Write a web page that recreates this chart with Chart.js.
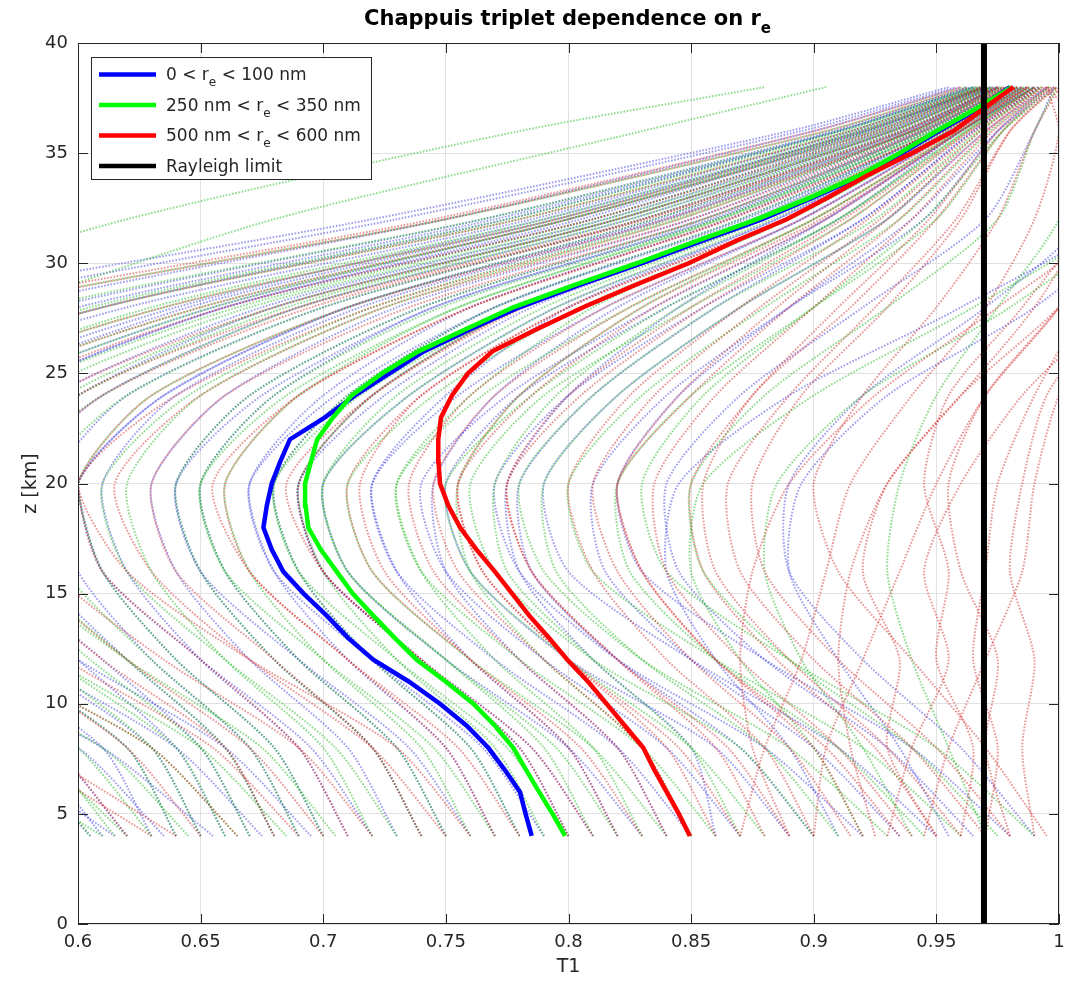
<!DOCTYPE html>
<html><head><meta charset="utf-8">
<script src="https://cdn.jsdelivr.net/npm/chart.js@4.4.1/dist/chart.umd.min.js"></script>
<style>html,body{margin:0;padding:0;background:#fff}#wrap{width:1073px;height:981px;position:relative}</style>
</head><body><div id="wrap"><canvas id="c"></canvas></div>
<script>
// ---------------- data ----------------
const zMain = [4,5,6,7,8,9,10,11,12,13,14,15,16,17,18,19,20,21,22,23,24,25,26,27,28,29,30,31,32,33,34,35,36,37,38];
const blueMain  = [0.785,0.7825,0.7802,0.774,0.7673,0.7585,0.7476,0.735,0.7204,0.710,0.7014,0.692,0.6837,0.679,0.6756,0.677,0.679,0.6825,0.6864,0.7007,0.713,0.727,0.741,0.760,0.780,0.804,0.830,0.854,0.879,0.900,0.920,0.936,0.951,0.967,0.980];
const greenMain = [0.7986,0.7935,0.788,0.7827,0.7775,0.770,0.7612,0.750,0.7381,0.729,0.7204,0.712,0.7055,0.699,0.6939,0.6928,0.6926,0.695,0.6975,0.704,0.7116,0.724,0.7388,0.758,0.7775,0.802,0.828,0.852,0.877,0.899,0.919,0.935,0.950,0.966,0.9807];
const redMain   = [0.8495,0.845,0.840,0.835,0.8305,0.823,0.8155,0.808,0.7995,0.792,0.784,0.777,0.770,0.7625,0.7558,0.751,0.7476,0.747,0.7469,0.748,0.7525,0.759,0.769,0.787,0.806,0.827,0.849,0.868,0.889,0.906,0.922,0.940,0.957,0.969,0.9814];
const rayleighT1 = [0.9694, 0.9694];
const rayleighZ  = [0, 40];

// individual profiles (background, dotted), values at zBg
const zBg = [4,8,12,16,20,24,28,32,36,38];
const bgBlue = [
 [0.60,0.55,0.47,0.40,0.36,0.41,0.54,0.73,0.895,0.958],
 [0.605,0.57,0.50,0.44,0.41,0.45,0.57,0.75,0.90,0.96],
 [0.61,0.58,0.52,0.47,0.45,0.49,0.60,0.77,0.91,0.965],
 [0.615,0.56,0.46,0.38,0.33,0.38,0.52,0.72,0.89,0.955],
 [0.62,0.59,0.54,0.49,0.47,0.51,0.62,0.785,0.915,0.966],
 [0.63,0.61,0.56,0.52,0.50,0.54,0.64,0.79,0.92,0.97],
 [0.635,0.60,0.53,0.47,0.44,0.48,0.59,0.765,0.908,0.963],
 [0.64,0.62,0.57,0.53,0.52,0.56,0.655,0.80,0.922,0.97],
 [0.65,0.63,0.58,0.54,0.53,0.57,0.66,0.81,0.925,0.97],
 [0.655,0.61,0.54,0.48,0.46,0.50,0.61,0.775,0.91,0.965],
 [0.66,0.64,0.60,0.56,0.55,0.59,0.675,0.815,0.928,0.971],
 [0.67,0.65,0.61,0.57,0.56,0.60,0.68,0.82,0.93,0.972],
 [0.675,0.64,0.58,0.53,0.51,0.55,0.645,0.795,0.918,0.968],
 [0.68,0.66,0.62,0.585,0.575,0.61,0.69,0.825,0.932,0.973],
 [0.69,0.67,0.63,0.60,0.59,0.62,0.70,0.83,0.935,0.975],
 [0.695,0.66,0.60,0.55,0.53,0.57,0.66,0.805,0.922,0.969],
 [0.70,0.68,0.64,0.61,0.60,0.635,0.71,0.835,0.937,0.975],
 [0.71,0.69,0.65,0.62,0.61,0.64,0.715,0.84,0.94,0.975],
 [0.72,0.695,0.65,0.61,0.60,0.635,0.71,0.838,0.938,0.976],
 [0.73,0.71,0.67,0.64,0.63,0.66,0.73,0.85,0.94,0.978],
 [0.74,0.72,0.68,0.65,0.64,0.67,0.74,0.855,0.943,0.979],
 [0.75,0.73,0.69,0.66,0.65,0.68,0.745,0.86,0.945,0.98],
 [0.76,0.735,0.69,0.65,0.64,0.675,0.745,0.858,0.944,0.98],
 [0.77,0.75,0.71,0.68,0.67,0.70,0.76,0.865,0.947,0.98],
 [0.78,0.76,0.72,0.69,0.68,0.71,0.77,0.87,0.95,0.983],
 [0.79,0.765,0.72,0.68,0.67,0.705,0.77,0.872,0.95,0.983],
 [0.80,0.78,0.74,0.70,0.69,0.72,0.78,0.875,0.95,0.982],
 [0.81,0.785,0.74,0.70,0.69,0.725,0.785,0.88,0.952,0.984],
 [0.82,0.80,0.76,0.73,0.72,0.75,0.80,0.885,0.955,0.985],
 [0.83,0.80,0.75,0.71,0.70,0.735,0.795,0.885,0.955,0.985],
 [0.84,0.82,0.78,0.75,0.745,0.77,0.82,0.895,0.957,0.987],
 [0.85,0.82,0.77,0.73,0.72,0.755,0.815,0.895,0.957,0.987],
 [0.86,0.85,0.81,0.78,0.775,0.80,0.845,0.905,0.96,0.99],
 [0.87,0.84,0.79,0.75,0.74,0.775,0.835,0.905,0.96,0.99],
 [0.89,0.86,0.80,0.76,0.75,0.78,0.84,0.91,0.96,0.99],
 [0.90,0.87,0.82,0.785,0.78,0.81,0.86,0.92,0.965,0.992],
 [0.92,0.88,0.82,0.78,0.77,0.80,0.855,0.92,0.965,0.992],
 [0.935,0.90,0.85,0.815,0.81,0.84,0.89,0.945,0.975,0.995],
 [0.95,0.91,0.85,0.80,0.79,0.82,0.87,0.93,0.97,0.995],
 [0.965,0.93,0.88,0.845,0.84,0.87,0.92,0.97,0.99,0.998],
 [0.98,0.94,0.88,0.83,0.82,0.845,0.89,0.94,0.975,0.998],
 [0.99,0.96,0.92,0.89,0.89,0.92,0.97,1.01,1.01,1.0],
 [0.955,0.935,0.91,0.89,0.895,0.93,0.99,1.03,1.03,1.01],
 [0.91,0.89,0.86,0.84,0.845,0.89,0.96,1.02,1.03,1.01]
];
const bgGreen = [
 [0.60,0.56,0.49,0.43,0.40,0.44,0.56,0.75,0.905,0.962],
 [0.605,0.575,0.51,0.455,0.43,0.47,0.585,0.765,0.91,0.965],
 [0.61,0.55,0.46,0.38,0.34,0.38,0.50,0.62,0.78,0.88],
 [0.615,0.585,0.53,0.48,0.46,0.50,0.61,0.78,0.915,0.967],
 [0.62,0.58,0.51,0.45,0.42,0.46,0.57,0.68,0.83,0.905],
 [0.63,0.60,0.55,0.51,0.49,0.53,0.635,0.795,0.92,0.969],
 [0.64,0.62,0.57,0.53,0.51,0.55,0.65,0.80,0.925,0.97],
 [0.645,0.61,0.54,0.48,0.455,0.495,0.605,0.775,0.912,0.966],
 [0.65,0.63,0.585,0.545,0.53,0.57,0.665,0.81,0.927,0.971],
 [0.66,0.64,0.59,0.55,0.54,0.58,0.67,0.815,0.93,0.972],
 [0.665,0.63,0.565,0.51,0.49,0.53,0.63,0.79,0.918,0.968],
 [0.67,0.65,0.605,0.565,0.555,0.595,0.68,0.82,0.932,0.973],
 [0.68,0.66,0.62,0.58,0.57,0.61,0.69,0.825,0.935,0.974],
 [0.685,0.65,0.59,0.54,0.52,0.56,0.655,0.80,0.922,0.969],
 [0.69,0.67,0.63,0.595,0.585,0.62,0.70,0.83,0.937,0.975],
 [0.70,0.68,0.64,0.61,0.60,0.63,0.71,0.835,0.94,0.976],
 [0.705,0.675,0.62,0.575,0.56,0.60,0.685,0.82,0.932,0.973],
 [0.72,0.70,0.66,0.63,0.62,0.65,0.725,0.845,0.942,0.978],
 [0.73,0.705,0.66,0.62,0.61,0.645,0.72,0.842,0.941,0.977],
 [0.74,0.72,0.68,0.65,0.64,0.67,0.74,0.855,0.945,0.98],
 [0.75,0.73,0.69,0.66,0.65,0.68,0.748,0.86,0.946,0.98],
 [0.76,0.74,0.70,0.67,0.66,0.69,0.755,0.862,0.948,0.981],
 [0.77,0.745,0.70,0.66,0.65,0.685,0.755,0.862,0.948,0.981],
 [0.78,0.76,0.72,0.69,0.68,0.71,0.77,0.87,0.95,0.982],
 [0.79,0.77,0.73,0.70,0.69,0.72,0.78,0.875,0.952,0.983],
 [0.80,0.775,0.73,0.69,0.68,0.715,0.78,0.877,0.952,0.983],
 [0.81,0.79,0.75,0.71,0.70,0.73,0.79,0.88,0.953,0.984],
 [0.82,0.795,0.75,0.71,0.70,0.735,0.795,0.883,0.954,0.985],
 [0.83,0.81,0.77,0.74,0.73,0.76,0.81,0.89,0.956,0.986],
 [0.84,0.81,0.76,0.72,0.71,0.745,0.805,0.89,0.956,0.986],
 [0.85,0.83,0.79,0.76,0.755,0.78,0.83,0.90,0.96,0.988],
 [0.86,0.83,0.78,0.74,0.73,0.765,0.825,0.90,0.959,0.988],
 [0.87,0.85,0.81,0.775,0.77,0.795,0.845,0.91,0.962,0.99],
 [0.88,0.85,0.80,0.76,0.75,0.785,0.84,0.91,0.962,0.99],
 [0.90,0.87,0.81,0.77,0.76,0.79,0.85,0.915,0.963,0.991],
 [0.91,0.88,0.83,0.795,0.79,0.82,0.87,0.93,0.968,0.993],
 [0.93,0.89,0.83,0.79,0.78,0.81,0.86,0.925,0.967,0.993],
 [0.945,0.91,0.86,0.825,0.82,0.85,0.90,0.95,0.977,0.996],
 [0.96,0.92,0.86,0.81,0.80,0.83,0.88,0.935,0.972,0.996],
 [0.975,0.94,0.89,0.855,0.85,0.88,0.93,0.975,0.99,0.999],
 [0.99,0.95,0.89,0.84,0.83,0.855,0.90,0.945,0.977,0.999],
 [0.97,0.955,0.94,0.93,0.935,0.95,0.975,1.0,1.01,1.0],
 [0.94,0.92,0.895,0.88,0.885,0.92,0.98,1.025,1.03,1.01],
 [0.92,0.90,0.87,0.85,0.855,0.90,0.965,1.02,1.03,1.01]
];
const bgRed = [
 [0.62,0.59,0.53,0.48,0.46,0.50,0.61,0.78,0.915,0.968],
 [0.63,0.57,0.48,0.41,0.37,0.42,0.55,0.745,0.90,0.96],
 [0.64,0.58,0.49,0.42,0.39,0.43,0.56,0.75,0.905,0.963],
 [0.65,0.62,0.57,0.53,0.51,0.55,0.65,0.80,0.925,0.97],
 [0.665,0.63,0.565,0.51,0.49,0.53,0.635,0.795,0.92,0.969],
 [0.68,0.66,0.61,0.57,0.56,0.59,0.68,0.82,0.932,0.973],
 [0.69,0.655,0.595,0.545,0.525,0.565,0.66,0.81,0.928,0.971],
 [0.70,0.67,0.62,0.58,0.57,0.60,0.69,0.83,0.936,0.975],
 [0.71,0.69,0.65,0.61,0.60,0.63,0.71,0.84,0.94,0.976],
 [0.72,0.69,0.635,0.59,0.575,0.61,0.695,0.832,0.937,0.975],
 [0.74,0.72,0.68,0.64,0.63,0.66,0.735,0.855,0.945,0.979],
 [0.75,0.72,0.67,0.63,0.615,0.65,0.725,0.85,0.943,0.978],
 [0.76,0.73,0.67,0.62,0.60,0.64,0.72,0.845,0.94,0.977],
 [0.77,0.75,0.71,0.67,0.66,0.69,0.76,0.865,0.95,0.981],
 [0.78,0.755,0.71,0.67,0.655,0.69,0.76,0.866,0.95,0.981],
 [0.80,0.78,0.74,0.70,0.69,0.72,0.78,0.878,0.953,0.983],
 [0.81,0.785,0.74,0.70,0.685,0.72,0.782,0.878,0.953,0.983],
 [0.82,0.80,0.76,0.725,0.715,0.74,0.80,0.888,0.956,0.985],
 [0.83,0.805,0.76,0.72,0.71,0.74,0.80,0.888,0.956,0.985],
 [0.84,0.82,0.78,0.745,0.735,0.76,0.815,0.895,0.958,0.987],
 [0.85,0.83,0.79,0.755,0.745,0.77,0.825,0.90,0.959,0.987],
 [0.86,0.84,0.80,0.765,0.755,0.78,0.83,0.903,0.96,0.988],
 [0.87,0.845,0.80,0.765,0.755,0.785,0.835,0.905,0.96,0.988],
 [0.88,0.86,0.82,0.785,0.775,0.80,0.85,0.912,0.963,0.99],
 [0.89,0.865,0.82,0.785,0.775,0.805,0.855,0.915,0.964,0.99],
 [0.90,0.88,0.84,0.81,0.80,0.825,0.87,0.922,0.966,0.991],
 [0.915,0.89,0.85,0.82,0.81,0.835,0.878,0.927,0.968,0.992],
 [0.92,0.90,0.86,0.83,0.82,0.845,0.885,0.93,0.97,0.993],
 [0.935,0.905,0.86,0.83,0.82,0.85,0.89,0.935,0.971,0.994],
 [0.94,0.91,0.87,0.84,0.835,0.86,0.90,0.94,0.973,0.995],
 [0.95,0.925,0.885,0.855,0.85,0.875,0.91,0.947,0.975,0.996],
 [0.96,0.93,0.89,0.86,0.855,0.875,0.915,0.95,0.977,0.997],
 [0.97,0.94,0.90,0.87,0.865,0.89,0.925,0.958,0.98,0.998],
 [0.98,0.95,0.91,0.88,0.875,0.895,0.93,0.96,0.98,0.999],
 [0.995,0.97,0.94,0.91,0.90,0.92,0.95,0.975,0.99,1.0],
 [0.97,0.975,0.965,0.97,0.975,0.99,1.01,1.03,1.02,1.0],
 [0.93,0.94,0.955,0.945,0.96,0.985,1.02,1.04,1.03,1.01],
 [0.90,0.905,0.92,0.935,0.95,0.97,1.0,1.02,1.02,1.0],
 [0.99,0.985,0.99,0.98,0.985,0.995,1.02,1.03,1.02,1.0],
 [0.95,0.93,0.935,0.92,0.93,0.96,0.99,1.01,1.01,0.995],
 [0.87,0.88,0.895,0.905,0.915,0.94,0.97,0.99,1.0,0.995],
 [0.96,0.965,0.95,0.955,0.945,0.955,0.985,1.01,1.01,0.998],
 [0.98,0.97,0.975,0.96,0.955,0.97,1.0,1.025,1.02,1.0],
 [0.925,0.915,0.91,0.915,0.93,0.96,1.0,1.03,1.03,1.005],
 [0.89,0.875,0.87,0.875,0.89,0.925,0.975,1.02,1.025,1.0],
 [0.945,0.955,0.97,0.985,0.99,1.0,1.02,1.03,1.02,1.0]
];
const legendLabels = ['0 < r_e < 100 nm', '250 nm < r_e < 350 nm', '500 nm < r_e < 600 nm', 'Rayleigh limit'];
const titleText = 'Chappuis triplet dependence on r_e';
const xTitle = 'T1';
const yTitle = 'z [km]';

// ---------------- build ----------------
const FONT = '"DejaVu Sans", "Liberation Sans", sans-serif';
const AX = '#262626';
const pts = (xs, zs) => xs.map((x, i) => ({x: x, y: zs[i]}));
const datasets = [];
const mainStyles = [
  {data: blueMain, color: '#0000ff', order: 3},
  {data: greenMain, color: '#00ff00', order: 2},
  {data: redMain, color: '#ff0000', order: 1}
];
datasets.push({data: pts(rayleighT1, rayleighZ), borderColor: '#000000', borderWidth: 6, order: 0, clip: 0});
mainStyles.forEach(s => datasets.push({data: pts(s.data, zMain), borderColor: s.color, borderWidth: 4.5, order: s.order}));
const bgSets = [
  {arr: bgRed, color: 'rgba(215,45,45,0.5)', order: 4},
  {arr: bgGreen, color: 'rgba(30,185,30,0.5)', order: 5},
  {arr: bgBlue, color: 'rgba(40,40,225,0.45)', order: 6}
];
bgSets.forEach(s => s.arr.forEach(p => datasets.push({data: pts(p, zBg), borderColor: s.color, borderWidth: 2, borderDash: [1.6, 1.6], tension: 0.25, order: s.order, clip: 0})));

function drawSubText(ctx, text, x, y, size, bold, align) {
  const parts = text.split('_');
  const segs = [];
  parts.forEach((p, i) => {
    if (i === 0) { segs.push({t: p, sub: false}); }
    else { segs.push({t: p[0], sub: true}); segs.push({t: p.slice(1), sub: false}); }
  });
  const fMain = (bold ? 'bold ' : '') + size + 'px ' + FONT;
  const subSize = Math.round(size * 0.72);
  const fSub = (bold ? 'bold ' : '') + subSize + 'px ' + FONT;
  let total = 0;
  segs.forEach(s => { ctx.font = s.sub ? fSub : fMain; s.w = ctx.measureText(s.t).width; total += s.w; });
  let cx = align === 'center' ? x - total / 2 : x;
  ctx.textAlign = 'left';
  ctx.textBaseline = 'alphabetic';
  segs.forEach(s => {
    ctx.font = s.sub ? fSub : fMain;
    ctx.fillText(s.t, cx, s.sub ? y + size * 0.38 : y);
    cx += s.w;
  });
}

const decor = {
  id: 'decor',
  afterDatasetsDraw(chart) {
    const ctx = chart.ctx, a = chart.chartArea;
    const xs = chart.scales.x, ys = chart.scales.y;
    ctx.save();
    ctx.strokeStyle = AX; ctx.lineWidth = 1;
    ctx.strokeRect(Math.round(a.left) + 0.5, Math.round(a.top) + 0.5, Math.round(a.right - a.left) - 1, Math.round(a.bottom - a.top) - 1);
    const TL = 10;
    ctx.beginPath();
    xs.ticks.forEach(t => {
      const px = Math.round(xs.getPixelForValue(t.value)) + 0.5;
      ctx.moveTo(px, a.bottom); ctx.lineTo(px, a.bottom - TL);
      ctx.moveTo(px, a.top); ctx.lineTo(px, a.top + TL);
    });
    ys.ticks.forEach(t => {
      const py = Math.round(ys.getPixelForValue(t.value)) + 0.5;
      ctx.moveTo(a.left, py); ctx.lineTo(a.left + TL, py);
      ctx.moveTo(a.right, py); ctx.lineTo(a.right - TL, py);
    });
    ctx.stroke();
    ctx.fillStyle = AX;
    ctx.font = '19px ' + FONT;
    ctx.textAlign = 'center'; ctx.textBaseline = 'middle';
    ctx.fillText(xTitle, (a.left + a.right) / 2, 967);
    ctx.save();
    ctx.translate(31, (a.top + a.bottom) / 2);
    ctx.rotate(-Math.PI / 2);
    ctx.fillText(yTitle, 0, 0);
    ctx.restore();
    ctx.fillStyle = '#000';
    drawSubText(ctx, titleText, (a.left + a.right) / 2 - 1, 25, 21, true, 'center');
    const lx = 91.5, ly = 57.5, lw = 280, lh = 122;
    ctx.fillStyle = '#fff';
    ctx.fillRect(lx, ly, lw, lh);
    ctx.strokeStyle = AX; ctx.lineWidth = 1;
    ctx.strokeRect(lx, ly, lw, lh);
    const cols = ['#0000ff', '#00ff00', '#ff0000', '#000000'];
    const baselines = [80, 110.5, 141, 171.5];
    legendLabels.forEach((lab, i) => {
      const yy = baselines[i] - 5.5;
      ctx.strokeStyle = cols[i]; ctx.lineWidth = 4.5;
      ctx.beginPath(); ctx.moveTo(99, yy); ctx.lineTo(156, yy); ctx.stroke();
      ctx.fillStyle = AX;
      drawSubText(ctx, lab, 166, baselines[i], 17, false, 'left');
    });
    ctx.restore();
  }
};

new Chart(document.getElementById('c'), {
  type: 'scatter',
  data: {datasets: datasets},
  options: {
    responsive: true, maintainAspectRatio: false, animation: false,
    showLine: true,
    layout: {padding: {top: 43, right: 14, left: 0, bottom: 0}},
    elements: {point: {radius: 0, hoverRadius: 0}, line: {tension: 0, fill: false}},
    plugins: {legend: {display: false}, tooltip: {enabled: false}, title: {display: false}},
    events: [],
    scales: {
      x: {type: 'linear', min: 0.6, max: 1,
          ticks: {stepSize: 0.05, autoSkip: false, maxRotation: 0, color: AX, padding: 8,
                  font: {family: FONT, size: 18}, callback: v => String(+v.toFixed(2))},
          grid: {color: '#e2e2e2', drawTicks: false, lineWidth: 1},
          border: {display: false},
          afterFit: s => { s.height = 57; }},
      y: {type: 'linear', min: 0, max: 40,
          ticks: {stepSize: 5, autoSkip: false, color: AX, padding: 10,
                  font: {family: FONT, size: 18}, callback: v => String(v)},
          grid: {color: '#e2e2e2', drawTicks: false, lineWidth: 1},
          border: {display: false},
          afterFit: s => { s.width = 78; }}
    }
  },
  plugins: [decor]
});
</script></body></html>
